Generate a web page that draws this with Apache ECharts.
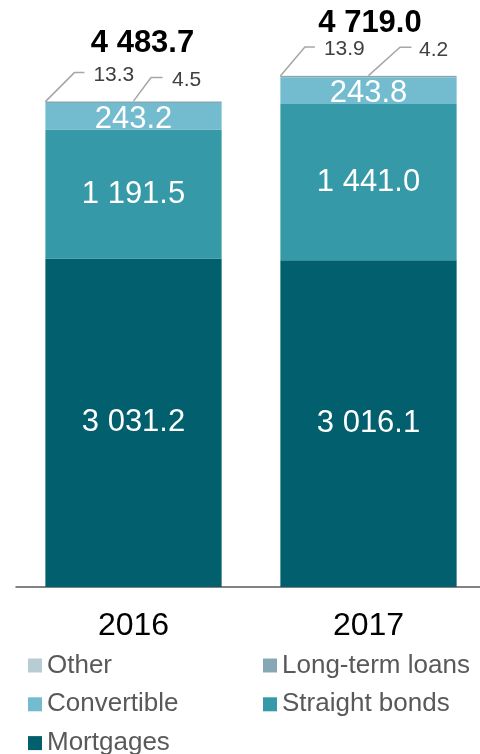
<!DOCTYPE html>
<html>
<head>
<meta charset="utf-8">
<script src="https://cdn.jsdelivr.net/npm/echarts@6/dist/echarts.min.js"></script>
<style>
html,body{margin:0;padding:0;background:#fff;}
#c{width:480px;height:754px;}
</style>
</head>
<body>
<div id="c"></div>
<script>
const categories = ['2016', '2017'];
const mortgages = [3031.2, 3016.1];
const straightBonds = [1191.5, 1441.0];
const convertible = [243.2, 243.8];
const longTermLoans = [13.3, 13.9];
const other = [4.5, 4.2];
const totals = [4483.7, 4719.0];
const legendLeft = ['Other', 'Convertible', 'Mortgages'];
const legendRight = ['Long-term loans', 'Straight bonds'];

const FONT = 'Liberation Sans, Arial, Helvetica, sans-serif';
function fmt(v) {
  const s = v.toFixed(1);
  const parts = s.split('.');
  parts[0] = parts[0].replace(/\B(?=(\d{3})+(?!\d))/g, ' ');
  return parts.join('.');
}

// annotation offsets (pixels) relative to bar anchors
const ltlOff = [
  {mx: 29, my: -29, ex: 39, tx: 48, ty: -26},
  {mx: 24.5, my: -29, ex: 34.5, tx: 43.5, ty: -27}
];
const othOff = [
  {mx: 17.5, my: -23.7, ex: 29, tx: 38.5, ty: -21},
  {mx: 31.5, my: -28.4, ex: 43, tx: 50.5, ty: -25}
];
const totOff = [{dx: 9, dy: -58}, {dx: 1.5, dy: -52}];
const BAR_RATIO = 0.75;

const inLabel = {
  show: true, position: 'inside', color: '#fff', fontSize: 31, fontFamily: FONT,
  formatter: p => fmt(p.value)
};

const chart = echarts.init(document.getElementById('c'), null, {renderer: 'canvas'});
const legendCommon = {
  orient: 'vertical', top: 652.5, height: 200,
  itemWidth: 14, itemHeight: 14, itemGap: 12.8, icon: 'rect',
  textStyle: {fontSize: 26, color: '#595959', fontFamily: FONT},
  selectedMode: false, padding: 0
};
chart.setOption({
  animation: false,
  grid: {left: 16, width: 470, top: 0, bottom: 167, containLabel: false, outerBoundsMode: 'none'},
  legend: [
    Object.assign({data: legendLeft, left: 28}, legendCommon),
    Object.assign({data: legendRight, left: 263}, legendCommon)
  ],
  xAxis: {
    type: 'category', data: categories,
    axisTick: {show: false},
    axisLine: {lineStyle: {color: '#595959', width: 1.5}},
    axisLabel: {fontSize: 32, color: '#000', margin: 23, fontFamily: FONT}
  },
  yAxis: {type: 'value', min: 0, max: 5417, show: false, splitLine: {show: false}},
  series: [
    {name: 'Mortgages', type: 'bar', stack: 'a', barWidth: (BAR_RATIO * 100) + '%', data: mortgages,
     itemStyle: {color: '#025f6d'}, label: inLabel},
    {name: 'Straight bonds', type: 'bar', stack: 'a', data: straightBonds,
     itemStyle: {color: '#3599a8'}, label: inLabel},
    {name: 'Convertible', type: 'bar', stack: 'a', data: convertible,
     itemStyle: {color: '#73bcd0'}, label: Object.assign({offset: [0, 3]}, inLabel)},
    {name: 'Long-term loans', type: 'bar', stack: 'a', data: longTermLoans,
     itemStyle: {color: '#86a8b4'}},
    {name: 'Other', type: 'bar', stack: 'a', data: other,
     itemStyle: {color: '#b8cdd3'}}
  ]
});

// annotations anchored through the chart's own scales
const graphics = [];
const band = chart.convertToPixel({gridIndex: 0}, [1, 0])[0] - chart.convertToPixel({gridIndex: 0}, [0, 0])[0];
const bw = band * BAR_RATIO;
const lineStyle = {stroke: '#a6a6a6', lineWidth: 1.5, fill: null};
const smallText = {fill: '#404040', fontSize: 21, fontFamily: FONT, align: 'left', verticalAlign: 'middle'};
categories.forEach((c, i) => {
  const ltlTop = mortgages[i] + straightBonds[i] + convertible[i] + longTermLoans[i];
  const pL = chart.convertToPixel({gridIndex: 0}, [i, ltlTop]);
  const pT = chart.convertToPixel({gridIndex: 0}, [i, totals[i]]);
  const xL = pL[0] - bw / 2, yL = pL[1];
  const a = ltlOff[i];
  graphics.push({type: 'polyline', shape: {points: [[xL, yL], [xL + a.mx, yL + a.my], [xL + a.ex, yL + a.my]]}, style: lineStyle, z: 10});
  graphics.push({type: 'text', x: xL + a.tx, y: yL + a.ty, style: Object.assign({text: fmt(longTermLoans[i])}, smallText), z: 10});
  const xO = pT[0], yO = pT[1];
  const b = othOff[i];
  graphics.push({type: 'polyline', shape: {points: [[xO, yO], [xO + b.mx, yO + b.my], [xO + b.ex, yO + b.my]]}, style: lineStyle, z: 10});
  graphics.push({type: 'text', x: xO + b.tx, y: yO + b.ty, style: Object.assign({text: fmt(other[i])}, smallText), z: 10});
  const t = totOff[i];
  graphics.push({type: 'text', x: pT[0] + t.dx, y: pT[1] + t.dy,
    style: {text: fmt(totals[i]), fill: '#000', fontSize: 31, fontWeight: 'bold', fontFamily: FONT, align: 'center', verticalAlign: 'middle'}, z: 10});
});
chart.setOption({graphic: graphics});
</script>
</body>
</html>
